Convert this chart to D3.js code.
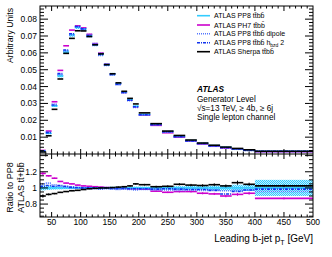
<!DOCTYPE html>
<html>
<head>
<meta charset="utf-8">
<script src="https://cdn.jsdelivr.net/npm/d3@7"></script>
<style>
  body { margin: 0; background: #fff; }
  svg { display: block; }
  text { font-family: "Liberation Sans", Arial, sans-serif; fill: #000; }
</style>
</head>
<body>
<svg></svg>
<script>
// bin edges in GeV
const edges = [30, 40, 50, 60, 70, 80, 90, 100, 110, 120, 130, 140, 150, 160, 170, 180, 190, 200,
  220, 240, 260, 280, 300, 320, 340, 360, 380, 400, 500];

// normalised distributions (top panel)
const pp8 = [0.0018, 0.0123, 0.0285, 0.0463, 0.0605, 0.0706, 0.0752, 0.0742, 0.0703, 0.0650, 0.0594,
  0.0530, 0.0474, 0.0418, 0.0367, 0.0322, 0.0283, 0.0235, 0.0177, 0.0133, 0.0105, 0.0080, 0.0063,
  0.0050, 0.0040, 0.0031, 0.0024, 0.0016];
const ph7 = [0.0021, 0.0136, 0.0310, 0.0496, 0.0642, 0.0735, 0.0760, 0.0748, 0.0710, 0.0655, 0.0598,
  0.0532, 0.0474, 0.0418, 0.0365, 0.0319, 0.0280, 0.0231, 0.0170, 0.0126, 0.0100, 0.0076, 0.0059,
  0.0046, 0.0036, 0.0029, 0.0022, 0.0014];
const dipole = [0.0019, 0.0130, 0.0297, 0.0472, 0.0611, 0.0706, 0.0752, 0.0738, 0.0696, 0.0644, 0.0585,
  0.0525, 0.0467, 0.0410, 0.0362, 0.0316, 0.0276, 0.0230, 0.0173, 0.0130, 0.0102, 0.0078, 0.0061,
  0.0049, 0.0039, 0.0030, 0.0023, 0.0015];
const hbzd = [0.0018, 0.0127, 0.0291, 0.0477, 0.0617, 0.0713, 0.0756, 0.0742, 0.0703, 0.0650, 0.0591,
  0.0530, 0.0472, 0.0414, 0.0365, 0.0319, 0.0280, 0.0233, 0.0174, 0.0132, 0.0103, 0.0078, 0.0062,
  0.0048, 0.0037, 0.0030, 0.0023, 0.0016];
const sherpa = [0.0012, 0.0108, 0.0265, 0.0445, 0.0597, 0.0686, 0.0731, 0.0730, 0.0697, 0.0648, 0.0594,
  0.0530, 0.0476, 0.0422, 0.0372, 0.0330, 0.0297, 0.0244, 0.0180, 0.0136, 0.0110, 0.0083, 0.0065,
  0.0052, 0.0041, 0.0033, 0.0025, 0.0016];

// ratios to PP8 (bottom panel)
const rPh7 = [1.18, 1.15, 1.12, 1.08, 1.06, 1.05, 1.035, 1.025, 1.02, 1.015, 1.01, 1.005, 1.0, 1.0,
  0.995, 0.99, 0.99, 0.985, 0.96, 0.946, 0.955, 0.955, 0.934, 0.926, 0.90, 0.92, 0.934, 0.87];
const rDipole = [1.05, 1.06, 1.04, 1.02, 1.01, 1.0, 1.0, 0.995, 0.99, 0.99, 0.985, 0.99, 0.985, 0.98,
  0.985, 0.98, 0.975, 0.98, 0.975, 0.975, 0.97, 0.975, 0.97, 0.975, 0.965, 0.97, 0.975, 0.955];
const rHbzd = [1.02, 1.03, 1.02, 1.03, 1.02, 1.01, 1.005, 1.0, 1.0, 1.0, 0.995, 1.0, 0.995, 0.99,
  0.995, 0.99, 0.99, 0.99, 0.985, 0.99, 0.985, 0.98, 0.98, 0.97, 0.925, 0.955, 0.975, 0.985];
const rSherpa = [0.90, 0.92, 0.93, 0.945, 0.955, 0.965, 0.97, 0.98, 0.99, 0.995, 1.0, 1.0, 1.005, 1.01,
  1.015, 1.025, 1.05, 1.04, 1.015, 1.02, 1.045, 1.035, 1.03, 1.04, 1.025, 1.065, 1.045, 1.025];
const eSherpa = [0.02, 0.012, 0.008, 0.006, 0.005, 0.005, 0.005, 0.005, 0.005, 0.005, 0.006, 0.006,
  0.006, 0.007, 0.008, 0.009, 0.01, 0.01, 0.012, 0.013, 0.014, 0.015, 0.016, 0.017, 0.018, 0.025, 0.02, 0.015];
const ePh7 = [0.02, 0.01, 0.007, 0.005, 0.004, 0.004, 0.004, 0.004, 0.004, 0.004, 0.005, 0.005,
  0.005, 0.006, 0.006, 0.007, 0.008, 0.008, 0.009, 0.01, 0.011, 0.012, 0.013, 0.014, 0.016, 0.018, 0.018, 0.012];
// PP8 statistical band (relative)
const bandPp8 = [0.03, 0.025, 0.02, 0.018, 0.015, 0.015, 0.015, 0.015, 0.015, 0.015, 0.015, 0.015,
  0.015, 0.015, 0.016, 0.016, 0.017, 0.017, 0.018, 0.02, 0.022, 0.024, 0.026, 0.028, 0.035, 0.04, 0.036, 0.1];

const xTicks = d3.range(50, 501, 50);
const xMinor = d3.range(40, 500, 10);
const yTicks = [0.01, 0.02, 0.03, 0.04, 0.05, 0.06, 0.07, 0.08];
const rTicks = [0.8, 1, 1.2];

const W = 332, H = 257;
const L = 40, R = 313, T = 6, MID = 154, B = 217;

const svg = d3.select("svg").attr("width", W).attr("height", H);

const x = d3.scaleLinear().domain([30, 500]).range([L, R]);
const y = d3.scaleLinear().domain([0, 0.0878]).range([MID, T]);
const yr = d3.scaleLinear().domain([0.64, 1.42]).range([B, MID]);

// hatch pattern for the PP8 band
const defs = svg.append("defs");
const pat = defs.append("pattern").attr("id", "chk").attr("width", 2).attr("height", 2)
  .attr("patternUnits", "userSpaceOnUse");
pat.append("rect").attr("width", 2).attr("height", 2).attr("fill", "#bfefff");
pat.append("rect").attr("width", 1).attr("height", 1).attr("fill", "#33ccff");
pat.append("rect").attr("x", 1).attr("y", 1).attr("width", 1).attr("height", 1).attr("fill", "#33ccff");

const bins = d3.range(edges.length - 1);

const series = [
  { name: "pp8", top: pp8, ratio: bins.map(() => 1), color: "#33ccff", dash: null, w: 1.6 },
  { name: "ph7", top: ph7, ratio: rPh7, err: ePh7, color: "#cc00cc", dash: null, w: 1.6 },
  { name: "dipole", top: dipole, ratio: rDipole, color: "#5577ff", dash: "1,1", w: 1.6 },
  { name: "hbzd", top: hbzd, ratio: rHbzd, color: "#1133ee", dash: "3,1,1,1", w: 1.6 },
  { name: "sherpa", top: sherpa, ratio: rSherpa, err: eSherpa, color: "#000", dash: null, w: 1.6 }
];

// ---- top panel ----
const topG = svg.append("g");
topG.selectAll("rect.band").data(bins).join("rect")
  .attr("x", i => x(edges[i]))
  .attr("width", i => x(edges[i + 1]) - x(edges[i]))
  .attr("y", i => y(pp8[i] * (1 + bandPp8[i])))
  .attr("height", i => Math.max(1.5, y(pp8[i] * (1 - bandPp8[i])) - y(pp8[i] * (1 + bandPp8[i]))))
  .attr("fill", "url(#chk)");

const order = [1, 0, 2, 3, 4];
order.forEach(k => {
  const s = series[k];
  topG.append("g").selectAll("line").data(bins).join("line")
    .attr("x1", i => x(edges[i]))
    .attr("x2", i => x(edges[i + 1]))
    .attr("y1", i => y(s.top[i]))
    .attr("y2", i => y(s.top[i]))
    .attr("stroke", s.color)
    .attr("stroke-width", s.w)
    .attr("stroke-dasharray", s.dash);
});

// ---- ratio panel ----
const botG = svg.append("g");
botG.selectAll("rect.band").data(bins).join("rect")
  .attr("x", i => x(edges[i]))
  .attr("width", i => x(edges[i + 1]) - x(edges[i]))
  .attr("y", i => yr(1 + bandPp8[i]))
  .attr("height", i => yr(1 - bandPp8[i]) - yr(1 + bandPp8[i]))
  .attr("fill", "url(#chk)");

order.forEach(k => {
  const s = series[k];
  const g = botG.append("g");
  g.selectAll("line.h").data(bins).join("line")
    .attr("x1", i => x(edges[i]))
    .attr("x2", i => x(edges[i + 1]))
    .attr("y1", i => yr(s.ratio[i]))
    .attr("y2", i => yr(s.ratio[i]))
    .attr("stroke", s.color)
    .attr("stroke-width", s.w)
    .attr("stroke-dasharray", s.dash);
  if (s.err) {
    g.selectAll("line.v").data(bins).join("line")
      .attr("x1", i => x((edges[i] + edges[i + 1]) / 2))
      .attr("x2", i => x((edges[i] + edges[i + 1]) / 2))
      .attr("y1", i => yr(s.ratio[i] + s.err[i]))
      .attr("y2", i => yr(s.ratio[i] - s.err[i]))
      .attr("stroke", s.color)
      .attr("stroke-width", 1);
  }
});

// ---- frames and ticks ----
const axes = svg.append("g").attr("stroke", "#000").attr("fill", "none");
axes.append("rect").attr("x", L).attr("y", T).attr("width", R - L).attr("height", B - T)
  .attr("stroke-width", 1);
axes.append("line").attr("x1", L).attr("x2", R).attr("y1", MID).attr("y2", MID).attr("stroke-width", 1.2);

function xTickMarks(yPos, dir) {
  axes.append("g").selectAll("line").data(xMinor).join("line")
    .attr("x1", d => x(d)).attr("x2", d => x(d))
    .attr("y1", yPos)
    .attr("y2", d => yPos + dir * (d % 50 === 0 ? 5 : 2.5))
    .attr("stroke-width", 1);
}
xTickMarks(T, 1); xTickMarks(MID, -1); xTickMarks(MID, 1); xTickMarks(B, -1);

const yMinor = d3.range(0.002, 0.0878, 0.002);
[[L, 1], [R, -1]].forEach(([xp, dir]) => {
  axes.append("g").selectAll("line").data(yMinor).join("line")
    .attr("x1", xp)
    .attr("x2", (d, i) => xp + dir * ((i + 1) % 5 === 0 ? 8 : 4))
    .attr("y1", d => y(d)).attr("y2", d => y(d))
    .attr("stroke-width", 1);
  axes.append("g").selectAll("line").data(d3.range(0.65, 1.42, 0.05)).join("line")
    .attr("x1", xp)
    .attr("x2", d => xp + dir * (Math.abs(d * 5 - Math.round(d * 5)) < 1e-6 ? 8 : 4))
    .attr("y1", d => yr(d)).attr("y2", d => yr(d))
    .attr("stroke-width", 1);
});

// ---- tick labels ----
svg.append("g").selectAll("text").data(yTicks).join("text")
  .attr("x", L - 3).attr("y", d => y(d) + 3)
  .attr("text-anchor", "end").attr("font-size", 8.5)
  .text(d => d3.format(".2f")(d));

svg.append("g").selectAll("text").data(rTicks).join("text")
  .attr("x", L - 3).attr("y", d => yr(d) + 3)
  .attr("text-anchor", "end").attr("font-size", 8.5)
  .text(d => d3.format("~g")(d));

svg.append("g").selectAll("text").data(xTicks).join("text")
  .attr("x", d => x(d)).attr("y", B + 8)
  .attr("text-anchor", "middle").attr("font-size", 8.5)
  .text(d => d);

// ---- axis titles ----
svg.append("text").attr("transform", `translate(13,${T + 2}) rotate(-90)`)
  .attr("text-anchor", "end").attr("font-size", 8.7).text("Arbitrary Units");
svg.append("text").attr("transform", `translate(13,${(MID + B) / 2 + 2}) rotate(-90)`)
  .attr("text-anchor", "middle").attr("font-size", 9).text("Ratio to PP8");
svg.append("text").attr("transform", `translate(24,${(MID + B) / 2 + 2}) rotate(-90)`)
  .attr("text-anchor", "middle").attr("font-size", 9).text("ATLAS tt\u0304+bb\u0304");

const xt = svg.append("text").attr("x", R).attr("y", 242).attr("text-anchor", "end").attr("font-size", 10);
xt.append("tspan").text("Leading b-jet p");
xt.append("tspan").attr("font-size", 7).attr("dy", 2.5).text("T");
xt.append("tspan").attr("dy", -2.5).text(" [GeV]");

// ---- legend ----
const legend = svg.append("g");
const legY = [15.7, 25, 33.7, 42.7, 51.7];
series.forEach((s, i) => {
  legend.append("line").attr("x1", 197).attr("x2", 210).attr("y1", legY[i]).attr("y2", legY[i])
    .attr("stroke", s.color).attr("stroke-width", 1.6).attr("stroke-dasharray", s.dash);
});
const legText = ["ATLAS PP8 tt\u0304bb\u0304", "ATLAS PH7 tt\u0304bb\u0304", "ATLAS PP8 tt\u0304bb\u0304 dipole",
  null, "ATLAS Sherpa tt\u0304bb\u0304"];
legText.forEach((t, i) => {
  if (t === null) return;
  legend.append("text").attr("x", 214).attr("y", legY[i] + 2.5).attr("font-size", 7).text(t);
});
const l4 = legend.append("text").attr("x", 214).attr("y", legY[3] + 2.5).attr("font-size", 7);
l4.append("tspan").text("ATLAS PP8 tt\u0304bb\u0304 h");
l4.append("tspan").attr("font-size", 5).attr("dy", 1.8).text("bzd");
l4.append("tspan").attr("dy", -1.8).text(" 2");

// ---- ATLAS label ----
const info = svg.append("g").attr("font-size", 8.2);
info.append("text").attr("x", 197).attr("y", 92).attr("font-weight", "bold").attr("font-style", "italic")
  .attr("font-size", 8.3).text("ATLAS");
info.append("text").attr("x", 197).attr("y", 101.5).attr("font-size", 8.2).text("Generator Level");
info.append("text").attr("x", 197).attr("y", 110.5).attr("font-size", 8.2).text("\u221As=13 TeV, \u2265 4b, \u2265 6j");
info.append("text").attr("x", 197).attr("y", 120).attr("font-size", 8.2).text("Single lepton channel");
</script>
</body>
</html>
